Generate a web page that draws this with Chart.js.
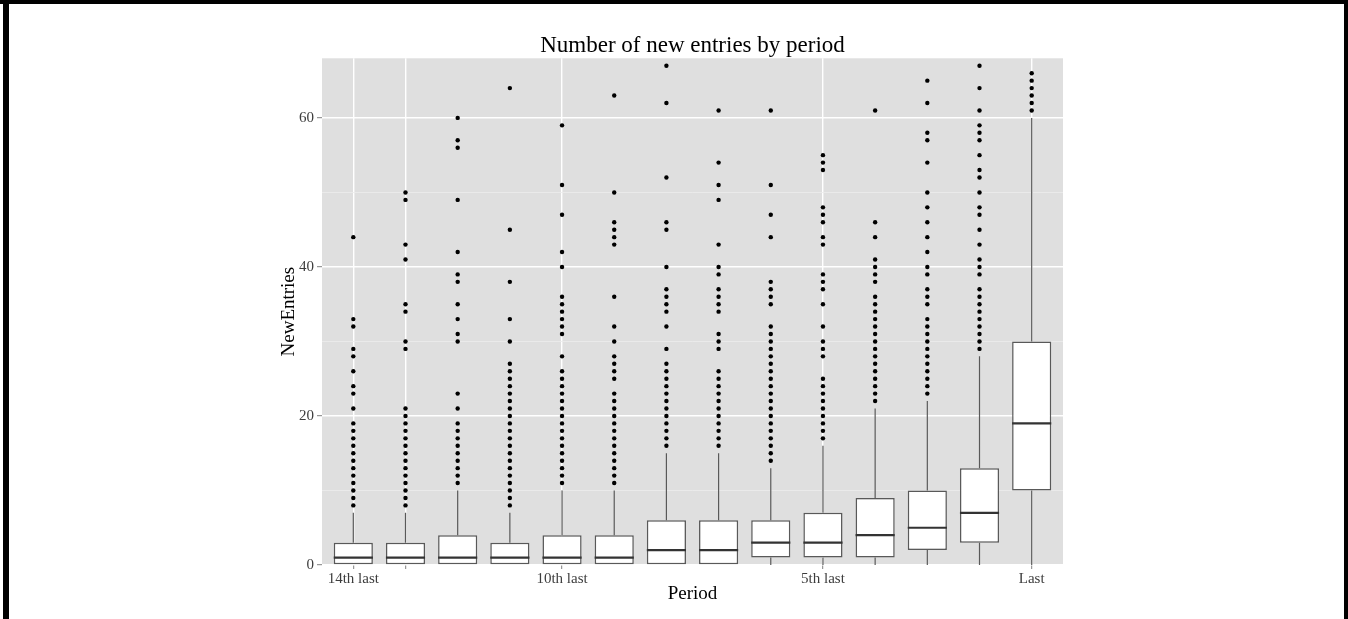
<!DOCTYPE html>
<html>
<head>
<meta charset="utf-8">
<script src="https://cdn.jsdelivr.net/npm/chart.js@4"></script>
<style>
  html, body { margin: 0; padding: 0; background: #fff; }
  #wrap { position: relative; width: 1348px; height: 619px; }
  .edge { position: absolute; background: #000; }
</style>
</head>
<body>
<div id="wrap">
  <canvas id="entries-chart" width="1348" height="619"></canvas>
  <div class="edge" style="left:0;top:0;width:1348px;height:4px"></div>
  <div class="edge" style="left:3px;top:0;width:6px;height:619px"></div>
  <div class="edge" style="left:1344px;top:0;width:4px;height:619px"></div>
</div>
<script>
const periods = ['14th last', '13th last', '12th last', '11th last', '10th last', '9th last', '8th last',
  '7th last', '6th last', '5th last', '4th last', '3rd last', '2nd last', 'Last'];

const q1 = [0, 0, 0, 0, 0, 0, 0, 0, 1, 1, 1, 2, 3, 10];
const median = [1, 1, 1, 1, 1, 1, 2, 2, 3, 3, 4, 5, 7, 19];
const q3 = [3, 3, 4, 3, 4, 4, 6, 6, 6, 7, 9, 10, 13, 30];
const whiskerLow = [0, 0, 0, 0, 0, 0, 0, 0, 0, 0, 0, 0, 0, 0];
const whiskerHigh = [7, 7, 10, 7, 10, 10, 15, 15, 13, 16, 21, 22, 28, 60];

const outliers = [
  [44, 33, 32, 29, 28, 26, 24, 23, 21, 19, 18, 17, 16, 15, 14, 13, 12, 11, 10, 9, 8],
  [50, 49, 43, 41, 35, 34, 30, 29, 21, 20, 19, 18, 17, 16, 15, 14, 13, 12, 11, 10, 9, 8],
  [60, 57, 56, 49, 42, 39, 38, 35, 33, 31, 30, 23, 21, 19, 18, 17, 16, 15, 14, 13, 12, 11],
  [64, 45, 38, 33, 30, 27, 26, 25, 24, 23, 22, 21, 20, 19, 18, 17, 16, 15, 14, 13, 12, 11, 10, 9, 8],
  [59, 51, 47, 42, 40, 36, 35, 34, 33, 32, 31, 28, 26, 25, 24, 23, 22, 21, 20, 19, 18, 17, 16, 15, 14, 13, 12, 11],
  [63, 50, 46, 45, 44, 43, 36, 32, 30, 28, 27, 26, 25, 23, 22, 21, 20, 19, 18, 17, 16, 15, 14, 13, 12, 11],
  [67, 62, 52, 46, 45, 40, 37, 36, 35, 34, 32, 29, 27, 26, 25, 24, 23, 22, 21, 20, 19, 18, 17, 16],
  [61, 54, 51, 49, 43, 40, 39, 37, 36, 35, 34, 31, 30, 29, 26, 25, 24, 23, 22, 21, 20, 19, 18, 17, 16],
  [61, 51, 47, 44, 38, 37, 36, 35, 32, 31, 30, 29, 28, 27, 26, 25, 24, 23, 22, 21, 20, 19, 18, 17, 16, 15, 14],
  [55, 54, 53, 48, 47, 46, 44, 43, 39, 38, 37, 35, 32, 30, 29, 28, 25, 24, 23, 22, 21, 20, 19, 18, 17],
  [61, 46, 44, 41, 40, 39, 38, 36, 35, 34, 33, 32, 31, 30, 29, 28, 27, 26, 25, 24, 23, 22],
  [65, 62, 58, 57, 54, 50, 48, 46, 44, 42, 40, 39, 37, 36, 35, 33, 32, 31, 30, 29, 28, 27, 26, 25, 24, 23],
  [67, 64, 61, 59, 58, 57, 55, 53, 52, 50, 48, 47, 45, 43, 41, 40, 39, 37, 36, 35, 34, 33, 32, 31, 30, 29],
  [66, 65, 64, 63, 62, 61],
];

// x axis breaks (1-based period positions) and their labels
const xTickPositions = [1, 2, 5, 10, 14];
const xTickLabels = ['14th last', '', '10th last', '5th last', 'Last'];
const yTickValues = [0, 10, 20, 30, 40, 50, 60];
const yLabelValues = [0, 20, 40, 60];

const BOX_HALF = 0.375;

const boxes = periods.map((p, i) => ({ x: i + 1, y: [q1[i], q3[i]] }));

const whiskers = [];
periods.forEach((p, i) => {
  whiskers.push({ x: i + 1, y: q3[i] }, { x: i + 1, y: whiskerHigh[i] }, { x: i + 1, y: null });
  if (q1[i] > whiskerLow[i]) {
    whiskers.push({ x: i + 1, y: whiskerLow[i] }, { x: i + 1, y: q1[i] }, { x: i + 1, y: null });
  }
});

const medians = [];
periods.forEach((p, i) => {
  medians.push({ x: i + 1 - BOX_HALF, y: median[i] }, { x: i + 1 + BOX_HALF, y: median[i] }, { x: i + 1, y: null });
});

const points = [];
outliers.forEach((vals, i) => vals.forEach((v) => points.push({ x: i + 1, y: v })));

const panelBackground = {
  id: 'panelBackground',
  beforeDraw(chart) {
    const { ctx, chartArea } = chart;
    ctx.save();
    ctx.fillStyle = '#DFDFDF';
    ctx.fillRect(chartArea.left, chartArea.top, chartArea.right - chartArea.left, chartArea.bottom - chartArea.top);
    ctx.restore();
  },
};

const serif = 'Liberation Serif, Times New Roman, serif';

new Chart(document.getElementById('entries-chart'), {
  type: 'bar',
  data: {
    datasets: [
      {
        type: 'line',
        data: medians,
        borderColor: '#333333',
        borderWidth: 2.2,
        pointRadius: 0,
        spanGaps: false,
        order: 0,
      },
      {
        type: 'line',
        data: points,
        showLine: false,
        pointRadius: 2.2,
        pointBackgroundColor: '#000000',
        pointBorderWidth: 0,
        order: 1,
      },
      {
        data: boxes,
        backgroundColor: '#FFFFFF',
        borderColor: '#595959',
        borderWidth: 1.5,
        borderSkipped: false,
        barPercentage: 0.75,
        categoryPercentage: 1,
        order: 2,
      },
      {
        type: 'line',
        data: whiskers,
        borderColor: '#595959',
        borderWidth: 1.2,
        pointRadius: 0,
        spanGaps: false,
        order: 3,
      },
    ],
  },
  options: {
    responsive: false,
    animation: false,
    events: [],
    layout: {
      padding: { left: 260, right: 285, top: 0, bottom: 0 },
    },
    plugins: {
      legend: { display: false },
      tooltip: { enabled: false },
      title: {
        display: true,
        text: 'Number of new entries by period',
        fullSize: false,
        color: '#000000',
        font: { family: serif, size: 23, weight: 'normal', lineHeight: 1.1 },
        padding: { top: 33, bottom: 0 },
      },
    },
    scales: {
      x: {
        type: 'linear',
        min: 0.4,
        max: 14.6,
        offset: false,
        afterBuildTicks: (scale) => {
          scale.ticks = xTickPositions.map((v) => ({ value: v }));
        },
        afterFit: (scale) => {
          scale.height = 54;
        },
        ticks: {
          color: '#3D3D3D',
          padding: 1,
          maxRotation: 0,
          autoSkip: false,
          font: { family: serif, size: 15 },
          callback: (v) => xTickLabels[xTickPositions.indexOf(v)],
        },
        grid: {
          offset: false,
          color: '#FFFFFF',
          lineWidth: 1.4,
          tickColor: '#7F7F7F',
          tickLength: 4,
          tickWidth: 1,
        },
        border: { display: false },
        title: {
          display: true,
          text: 'Period',
          color: '#000000',
          font: { family: serif, size: 19 },
          padding: { top: 0, bottom: 14 },
        },
      },
      y: {
        min: 0,
        max: 68,
        afterBuildTicks: (scale) => {
          scale.ticks = yTickValues.map((v) => ({ value: v }));
        },
        afterFit: (scale) => {
          scale.width = 62;
        },
        ticks: {
          color: '#3D3D3D',
          padding: 3,
          font: { family: serif, size: 15 },
          callback: (v) => (yLabelValues.includes(v) ? String(v) : ''),
        },
        grid: {
          color: (ctx) => (yLabelValues.includes(ctx.tick.value) ? '#FFFFFF' : '#ECECEC'),
          lineWidth: (ctx) => (yLabelValues.includes(ctx.tick.value) ? 1.4 : 0.8),
          tickColor: (ctx) => (yLabelValues.includes(ctx.tick.value) ? '#7F7F7F' : 'rgba(0,0,0,0)'),
          tickLength: 5,
          tickWidth: 1,
        },
        border: { display: false },
        title: {
          display: true,
          text: 'NewEntries',
          color: '#000000',
          font: { family: serif, size: 19 },
          padding: { top: 18, bottom: 0 },
        },
      },
    },
  },
  plugins: [panelBackground],
});
</script>
</body>
</html>
